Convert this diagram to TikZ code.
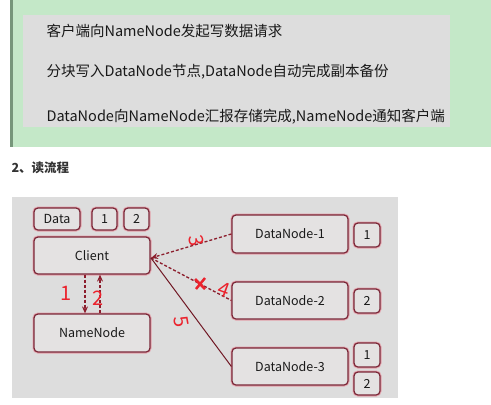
\documentclass[tikz,border=0pt]{standalone}
\usepackage{fontspec}
\setmainfont{Noto Sans CJK SC}
\usetikzlibrary{arrows.meta}
\definecolor{greenbg}{RGB}{196,232,200}
\definecolor{greenbar}{RGB}{118,150,122}
\definecolor{graybox}{RGB}{221,221,221}
\definecolor{diagbg}{RGB}{221,221,221}
\definecolor{nodefill}{RGB}{228,226,226}
\definecolor{maroon}{RGB}{122,40,56}
\definecolor{glow}{RGB}{226,160,170}
\definecolor{arrowred}{RGB}{140,30,45}
\definecolor{hand}{RGB}{235,35,45}
\tikzset{
  box/.style={draw=maroon, line width=1.2pt, fill=nodefill, rounded corners=4pt,
    preaction={draw=glow, line width=3pt}, font=\fontsize{12.5}{14}\selectfont,
    inner sep=0pt, text=black!90},
  conn/.style={draw=arrowred, line width=1.3pt, dash pattern=on 3pt off 2pt, -{Stealth[length=7pt,width=6pt]}},
  handtxt/.style={text=hand, font=\fontsize{20}{22}\selectfont}
}
\begin{document}
\begin{tikzpicture}[x=1pt,y=-1pt]
\useasboundingbox (0,0) rectangle (491,405);
\fill[white] (0,0) rectangle (491,405);
% top block
\fill[greenbg] (12,0) rectangle (491,147);
\fill[greenbar] (10,0) rectangle (13,147);
\fill[graybox] (23,15) rectangle (450,127);
\node[anchor=west, font=\fontsize{14.5}{16}\selectfont, text=black!90] (t1) at (43,31) {客户端向NameNode发起写数据请求};
\node[anchor=west, font=\fontsize{14.5}{16}\selectfont, text=black!90] (t2) at (43,72) {分块写入DataNode节点,DataNode自动完成副本备份};
\node[anchor=west, font=\fontsize{14.5}{16}\selectfont, text=black!90] (t3) at (43,117) {DataNode向NameNode汇报存储完成,NameNode通知客户端};
% heading
\node[anchor=west, font=\fontsize{12.5}{14}\selectfont\bfseries, text=black!80] (h) at (8,168) {2、读流程};
% diagram background
\fill[diagbg] (12,197) rectangle (398,398);
% nodes
\node[box, minimum width=46pt, minimum height=22pt] (data) at (57,219) {Data};
\node[box, minimum width=25pt, minimum height=22pt] (c1) at (104.5,219) {1};
\node[box, minimum width=25pt, minimum height=22pt] (c2) at (136.5,219) {2};
\node[box, minimum width=116pt, minimum height=37pt] (client) at (92,255.5) {Client};
\node[box, minimum width=116pt, minimum height=38pt] (nn) at (92,333) {NameNode};
\node[box, minimum width=116pt, minimum height=38pt] (dn1) at (290,234) {DataNode-1};
\node[box, minimum width=116pt, minimum height=37pt] (dn2) at (290,300.5) {DataNode-2};
\node[box, minimum width=116pt, minimum height=37pt] (dn3) at (290,366.5) {DataNode-3};
\node[box, minimum width=26pt, minimum height=24pt] (b1) at (367,235) {1};
\node[box, minimum width=26pt, minimum height=24pt] (b2) at (367,301) {2};
\node[box, minimum width=26pt, minimum height=24pt] (b31) at (367,355) {1};
\node[box, minimum width=26pt, minimum height=23pt] (b32) at (367,383.5) {2};
% connectors
\coordinate (cr) at (151,258);
\draw[conn] (dn1.west) -- (cr);
\draw[draw=arrowred, line width=1.3pt, dash pattern=on 3pt off 2pt] (cr) -- (dn2.west);
\draw[draw=arrowred!80!black, line width=1pt] (cr) -- (dn3.west);
\draw[conn] ([xshift=-7pt]client.south) -- ([xshift=-7pt]nn.north);
\draw[conn] ([xshift=8pt]nn.north) -- ([xshift=8pt]client.south);
% red cross on DN2 line
\draw[hand, line width=2.5pt] (195,279) -- (205,289) (205,278) -- (196,289);
% handwritten annotations
\node[handtxt] (a1) at (66,293) {1};
\node[handtxt] (a2) at (98,298) {2};
\node[handtxt, rotate=-80] (a3) at (196,241) {3};
\node[handtxt, rotate=-20] (a4) at (224,290) {4};
\node[handtxt, rotate=-80] (a5) at (181,322) {5};
\end{tikzpicture}
\end{document}
